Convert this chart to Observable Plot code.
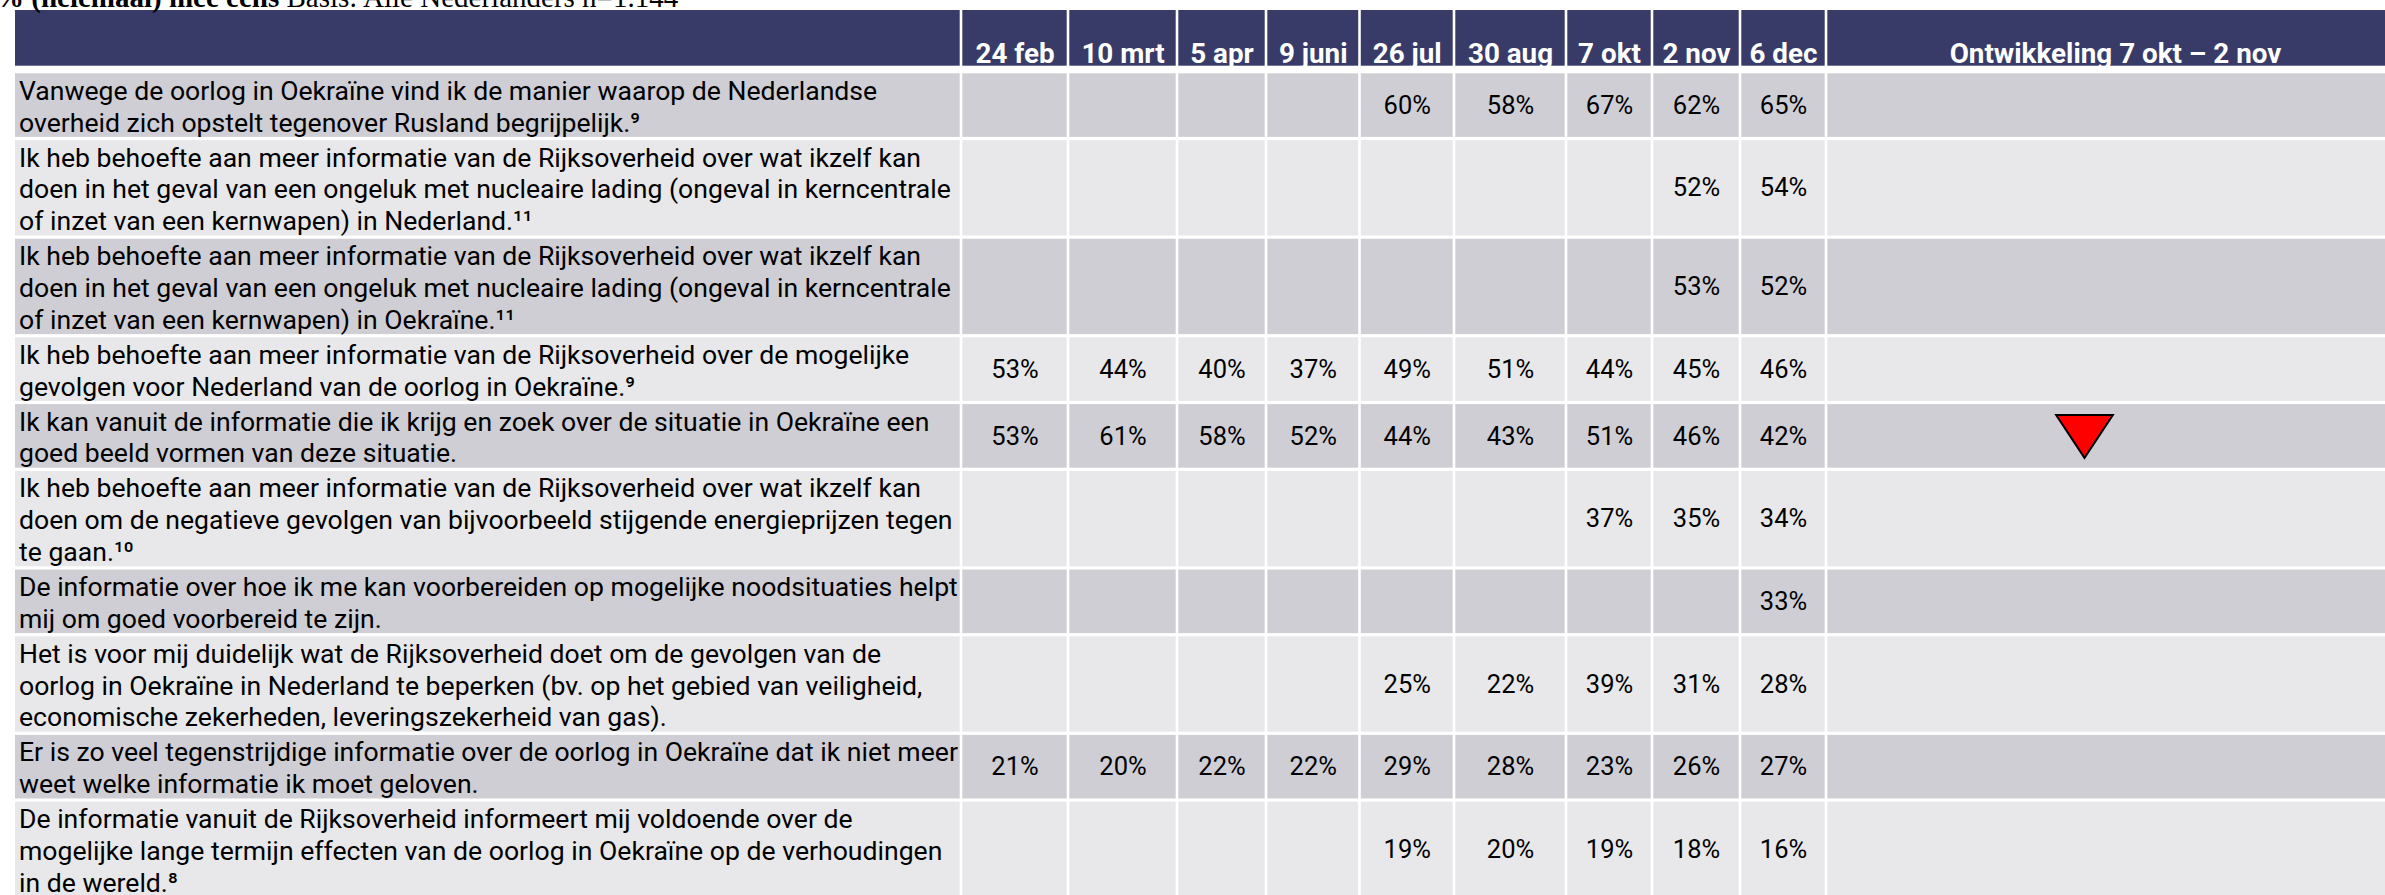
<!DOCTYPE html>
<html><head><meta charset="utf-8">
<script src="https://cdn.jsdelivr.net/npm/d3@7"></script>
<script src="https://cdn.jsdelivr.net/npm/@observablehq/plot@0.6"></script>
<style>
html,body{margin:0;padding:0;background:#fff;overflow:hidden}
#wrap{position:relative;width:2385px;height:895px;overflow:hidden}
#chart{position:absolute;left:0;top:0}
#title{position:absolute;left:-5px;top:-17px;font-family:"Liberation Serif",serif;font-size:29px;line-height:29px;white-space:nowrap;color:#000;z-index:2}
</style></head><body>
<div id="wrap"><div id="chart"></div><div id="title"><b>% (helemaal) mee eens</b> Basis: Alle Nederlanders n=1.144</div></div>
<script>
// ---- data ----
const dates = ["24 feb", "10 mrt", "5 apr", "9 juni", "26 jul", "30 aug", "7 okt", "2 nov", "6 dec"];
const trendLabel = "Ontwikkeling 7 okt – 2 nov";
const statements = [
  "Vanwege de oorlog in Oekraïne vind ik de manier waarop de Nederlandse\noverheid zich opstelt tegenover Rusland begrijpelijk.⁹",
  "Ik heb behoefte aan meer informatie van de Rijksoverheid over wat ikzelf kan\ndoen in het geval van een ongeluk met nucleaire lading (ongeval in kerncentrale\nof inzet van een kernwapen) in Nederland.¹¹",
  "Ik heb behoefte aan meer informatie van de Rijksoverheid over wat ikzelf kan\ndoen in het geval van een ongeluk met nucleaire lading (ongeval in kerncentrale\nof inzet van een kernwapen) in Oekraïne.¹¹",
  "Ik heb behoefte aan meer informatie van de Rijksoverheid over de mogelijke\ngevolgen voor Nederland van de oorlog in Oekraïne.⁹",
  "Ik kan vanuit de informatie die ik krijg en zoek over de situatie in Oekraïne een\ngoed beeld vormen van deze situatie.",
  "Ik heb behoefte aan meer informatie van de Rijksoverheid over wat ikzelf kan\ndoen om de negatieve gevolgen van bijvoorbeeld stijgende energieprijzen tegen\nte gaan.¹⁰",
  "De informatie over hoe ik me kan voorbereiden op mogelijke noodsituaties helpt\nmij om goed voorbereid te zijn.",
  "Het is voor mij duidelijk wat de Rijksoverheid doet om de gevolgen van de\noorlog in Oekraïne in Nederland te beperken (bv. op het gebied van veiligheid,\neconomische zekerheden, leveringszekerheid van gas).",
  "Er is zo veel tegenstrijdige informatie over de oorlog in Oekraïne dat ik niet meer\nweet welke informatie ik moet geloven.",
  "De informatie vanuit de Rijksoverheid informeert mij voldoende over de\nmogelijke lange termijn effecten van de oorlog in Oekraïne op de verhoudingen\nin de wereld.⁸"
];
const s1  = [null, null, null, null, 60, 58, 67, 62, 65];
const s2  = [null, null, null, null, null, null, null, 52, 54];
const s3  = [null, null, null, null, null, null, null, 53, 52];
const s4  = [53, 44, 40, 37, 49, 51, 44, 45, 46];
const s5  = [53, 61, 58, 52, 44, 43, 51, 46, 42];
const s6  = [null, null, null, null, null, null, 37, 35, 34];
const s7  = [null, null, null, null, null, null, null, null, 33];
const s8  = [null, null, null, null, 25, 22, 39, 31, 28];
const s9  = [21, 20, 22, 22, 29, 28, 23, 26, 27];
const s10 = [null, null, null, null, 19, 20, 19, 18, 16];
const seriesValues = [s1, s2, s3, s4, s5, s6, s7, s8, s9, s10];
const trend = [null, null, null, null, "down", null, null, null, null, null];

// ---- layout ----
const W = 2385, H = 895;
const colEdges = [15, 961, 1068, 1177, 1266, 1359.5, 1454, 1566, 1652, 1740, 1826, 2404];
const headerTop = 10, headerBottom = 65.7, firstRowTop = 73.3;
const lineH = 31.8, rowGap = 3.2, colGap = 2.6;
const fontSize = 26.6, numSize = 25.5, headSize = 27.8;
const textLeft = 18.5;
const navy = "#383B67", dark = "#CFCED4", light = "#E8E8EA";

const rows = [];
let rowTop = firstRowTop;
statements.forEach((s, i) => {
  const n = s.split("\n").length;
  const y1 = rowTop, y2 = rowTop + n * lineH;
  rows.push({i, text: s, y1, y2, yc: (y1 + y2) / 2, fill: i % 2 === 0 ? dark : light, trend: trend[i]});
  rowTop = y2 + rowGap;
});
const nCols = colEdges.length - 1;
const cx = c => (colEdges[c] + colEdges[c + 1]) / 2;
const cl = c => c === 0 ? colEdges[0] : colEdges[c] + colGap / 2;
const cr = c => c === nCols - 1 ? colEdges[c + 1] : colEdges[c + 1] - colGap / 2;

const headerCells = d3.range(nCols).map(c => ({x1: cl(c), x2: cr(c), y1: headerTop, y2: headerBottom}));
const bodyCells = rows.flatMap(r => d3.range(nCols).map(c => ({x1: cl(c), x2: cr(c), y1: r.y1, y2: r.y2, fill: r.fill})));
const headerLabels = [...dates.map((d, i) => ({x: cx(i + 1), label: d})), {x: cx(nCols - 1), label: trendLabel}];
const numbers = rows.flatMap(r => seriesValues[r.i].map((v, j) => ({x: cx(j + 1), y: r.yc, v})).filter(d => d.v != null));
const trendRows = rows.filter(r => r.trend === "down");

const downTriangle = {
  draw(ctx, size) {
    const r = Math.sqrt(size / Math.PI);
    const w = r * 1.35, h = r * 1.02;
    ctx.moveTo(-w, -h); ctx.lineTo(w, -h); ctx.lineTo(0, h); ctx.closePath();
  }
};

const chart = Plot.plot({
  width: W, height: H,
  margin: 0,
  x: {domain: [0, W], range: [0, W], axis: null},
  y: {domain: [0, H], range: [0, H], axis: null},
  style: {fontFamily: "Roboto, sans-serif", background: "transparent", overflow: "hidden"},
  marks: [
    Plot.rect(headerCells, {x1: "x1", x2: "x2", y1: "y1", y2: "y2", fill: navy}),
    Plot.rect(bodyCells, {x1: "x1", x2: "x2", y1: "y1", y2: "y2", fill: "fill"}),
    Plot.text(headerLabels, {x: "x", y: headerBottom - 3, text: "label", lineAnchor: "bottom", fill: "#fff", fontWeight: "bold", fontSize: headSize}),
    Plot.text(rows, {x: textLeft, y: "yc", text: "text", textAnchor: "start", lineAnchor: "middle", lineHeight: lineH / fontSize, fontSize, fill: "#000"}),
    Plot.text(numbers, {x: "x", y: "y", text: d => d.v + "%", lineAnchor: "middle", fontSize: numSize, fill: "#000"}),
    Plot.dot(trendRows, {x: () => cx(nCols - 1) - 31, y: "yc", symbol: downTriangle, r: 21, fill: "#FF0000", stroke: "#000", strokeWidth: 2})
  ]
});
document.getElementById("chart").appendChild(chart);
</script>
</body></html>
